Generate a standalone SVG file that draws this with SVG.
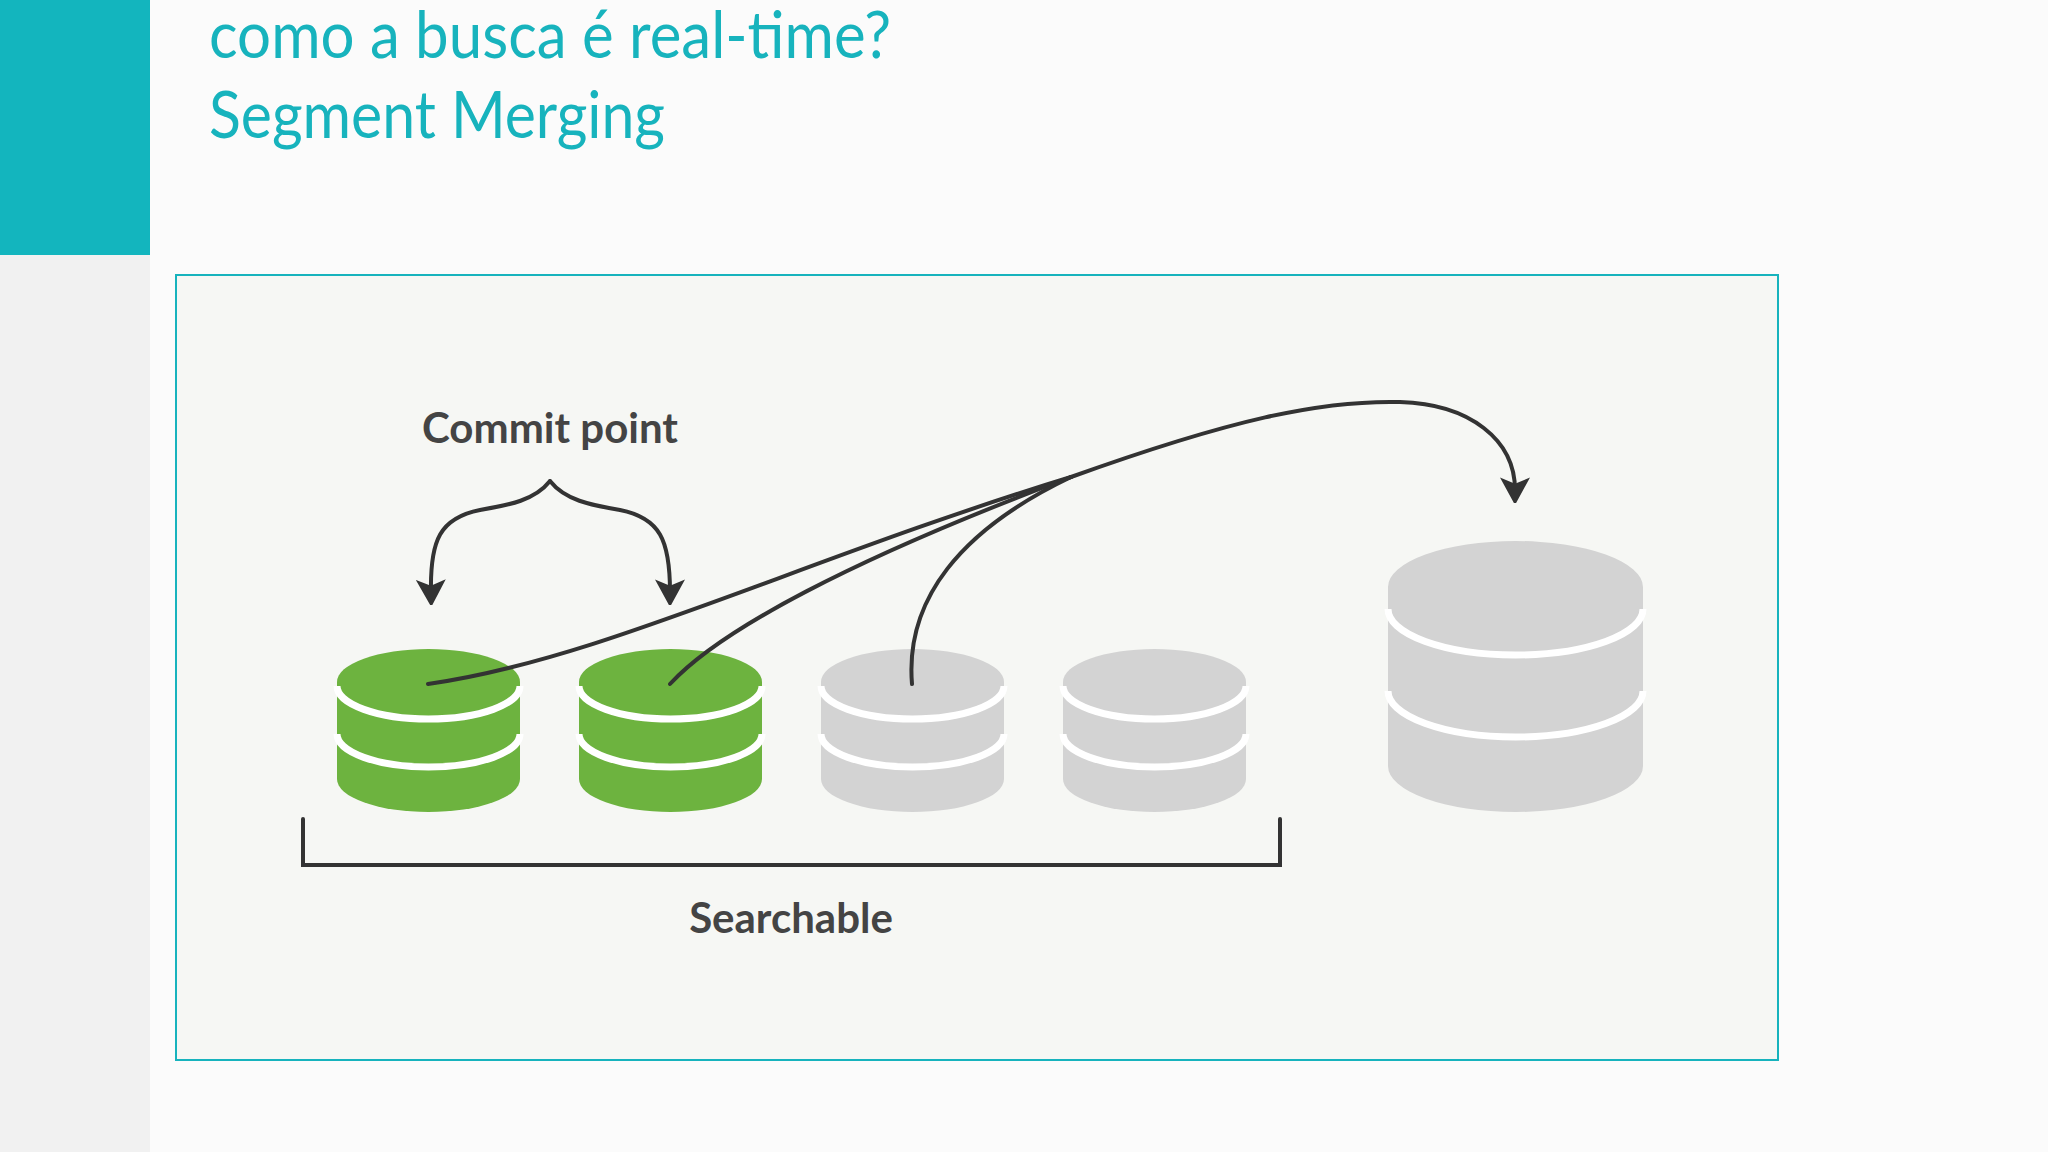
<svg xmlns="http://www.w3.org/2000/svg" width="2048" height="1152" viewBox="0 0 2048 1152">
<style>
.t{font-family:"Lato","Liberation Sans",sans-serif;fill:#17b3bd;font-size:66px}
.l{font-family:"Lato","Liberation Sans",sans-serif;font-weight:bold;fill:#444;font-size:42px;text-anchor:middle}
.sep{fill:none;stroke:#fff;stroke-width:7}
.c{fill:none;stroke:#333;stroke-width:4;stroke-linecap:round}
.g{fill:#6db33f}.y{fill:#d3d3d3}
</style>
<defs>
<marker id="b" viewBox="-10 -12 20 24" refX="0" refY="0" markerWidth="26" markerHeight="30" orient="auto" markerUnits="userSpaceOnUse"><path d="M-10,-12 L12,0 L-10,12 L-5,0 Z" fill="#333"/></marker>
</defs>
<rect width="2048" height="1152" fill="#fbfbfb"/>
<rect x="0" y="0" width="150" height="1152" fill="#f1f1f1"/>
<rect x="0" y="0" width="150" height="255" fill="#13b5be"/>
<text class="t" x="209" y="58" textLength="682" lengthAdjust="spacingAndGlyphs">como a busca é real-time?</text>
<text class="t" x="209" y="138" textLength="456" lengthAdjust="spacingAndGlyphs">Segment Merging</text>
<rect x="176" y="275" width="1602" height="785" fill="#f6f7f4" stroke="#17b3bd" stroke-width="2"/>
<text class="l" x="550" y="443">Commit point</text>
<text class="l" x="791" y="933">Searchable</text>
<g id="seg1"><path class="g" d="M337,682 A91.5,33 0 0 1 520,682 V779 A91.5,33 0 0 1 337,779 Z"/><path class="sep" d="M337,686 A91.5,33 0 0 0 520,686 M337,734 A91.5,33 0 0 0 520,734"/></g>
<g id="seg2"><path class="g" d="M579,682 A91.5,33 0 0 1 762,682 V779 A91.5,33 0 0 1 579,779 Z"/><path class="sep" d="M579,686 A91.5,33 0 0 0 762,686 M579,734 A91.5,33 0 0 0 762,734"/></g>
<g id="seg3"><path class="y" d="M821,682 A91.5,33 0 0 1 1004,682 V779 A91.5,33 0 0 1 821,779 Z"/><path class="sep" d="M821,686 A91.5,33 0 0 0 1004,686 M821,734 A91.5,33 0 0 0 1004,734"/></g>
<g id="seg4"><path class="y" d="M1063,682 A91.5,33 0 0 1 1246,682 V779 A91.5,33 0 0 1 1063,779 Z"/><path class="sep" d="M1063,686 A91.5,33 0 0 0 1246,686 M1063,734 A91.5,33 0 0 0 1246,734"/></g>
<g id="merged"><path class="y" d="M1388,587 A127.5,46 0 0 1 1643,587 V766 A127.5,46 0 0 1 1388,766 Z"/><path class="sep" d="M1388,609 A127.5,46 0 0 0 1643,609 M1388,691 A127.5,46 0 0 0 1643,691"/></g>
<g id="connectors">
<path class="c" d="M303,819 V865 H1280 V819"/>
<path class="c" marker-end="url(#b)" d="M550,481 C535,500 510,505 480,510 C440,518 430,540 431,592"/>
<path class="c" marker-end="url(#b)" d="M550,481 C565,500 590,505 620,510 C660,518 670,540 670,592"/>
<path class="c" d="M428,684 C600,660 800,560 1071,477"/>
<path class="c" d="M670,684 C720,630 850,560 1071,477"/>
<path class="c" d="M912,684 C905,600 960,530 1071,477"/>
<path class="c" marker-end="url(#b)" d="M1071,477 C1230,420 1320,400 1400,402 C1470,404 1515,440 1515,490"/>
</g>
</svg>
